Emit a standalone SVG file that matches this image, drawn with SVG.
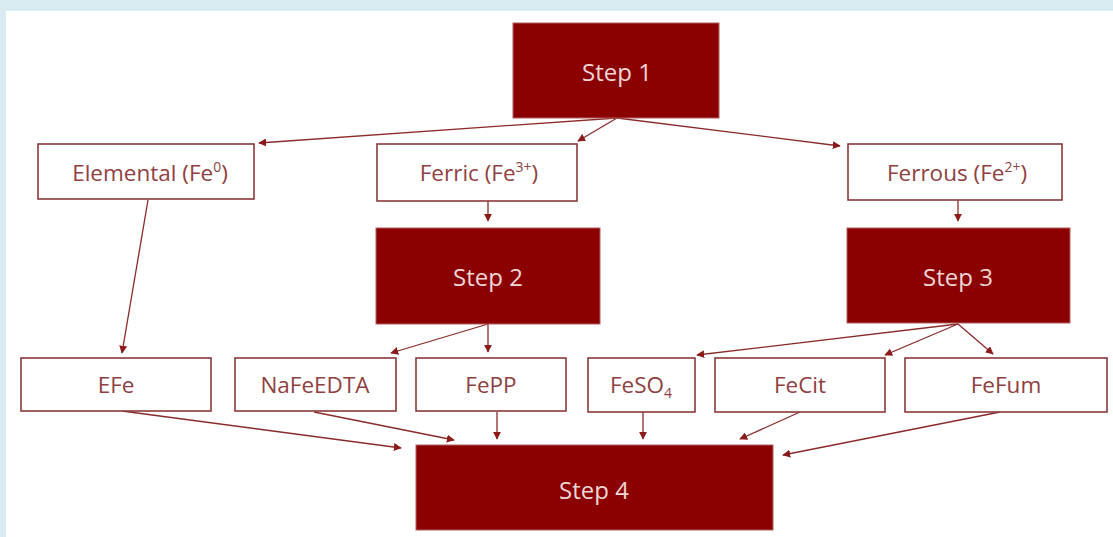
<svg xmlns="http://www.w3.org/2000/svg" width="1113" height="537" viewBox="0 0 1113 537">
<defs>
<marker id="ah" viewBox="0 0 10 10" refX="9" refY="5" markerWidth="8" markerHeight="8" markerUnits="userSpaceOnUse" orient="auto">
<path d="M0,0 L10,5 L0,10 z" fill="#8b1a1a"/>
</marker>
<style>
.bg{fill:#d7ebf1}
.dark{fill:#8b0000;stroke:#b06060;stroke-width:1}
.light{fill:#ffffff;stroke:#8b3a3a;stroke-width:1.6}
.dt{font-family:"Open Sans","Lato",sans-serif;font-size:24px;font-weight:500;fill:#f0d6d6;text-anchor:middle}
.lt{font-family:"Open Sans","Lato",sans-serif;font-size:22.5px;font-weight:500;fill:#8f4040;text-anchor:middle}
.c line{stroke:#8b2a2a;stroke-width:1.3;marker-end:url(#ah)}
</style>
</defs>
<rect class="bg" x="0" y="0" width="1113" height="537"/>
<rect x="6" y="11" width="1107" height="526" fill="#ffffff"/>

<g id="connectors" class="c">
<line x1="617" y1="118" x2="259" y2="143"/>
<line x1="617" y1="118" x2="578" y2="141"/>
<line x1="617" y1="118" x2="840" y2="146"/>
<line x1="148" y1="200" x2="122" y2="353"/>
<line x1="488" y1="201" x2="488" y2="221"/>
<line x1="958" y1="200" x2="958" y2="221"/>
<line x1="488" y1="324" x2="391" y2="353"/>
<line x1="488" y1="324" x2="488" y2="352"/>
<line x1="958" y1="324" x2="697" y2="355"/>
<line x1="958" y1="324" x2="885" y2="355"/>
<line x1="958" y1="324" x2="993" y2="354"/>
<line x1="122" y1="411" x2="401" y2="448"/>
<line x1="314" y1="412" x2="454" y2="440"/>
<line x1="497" y1="412" x2="497" y2="439"/>
<line x1="643" y1="412" x2="643" y2="439"/>
<line x1="800" y1="412" x2="740" y2="439"/>
<line x1="1000" y1="412" x2="783" y2="455"/>
</g>

<g id="step1"><rect class="dark" x="513" y="23" width="206" height="95"/><text class="dt" x="617" y="81">Step 1</text></g>
<g id="elemental"><rect class="light" x="38" y="144" width="216" height="55"/><text class="lt" x="150" y="181">Elemental (Fe<tspan font-size="14" dy="-9">0</tspan><tspan dy="9">)</tspan></text></g>
<g id="ferric"><rect class="light" x="377" y="144" width="200" height="57"/><text class="lt" x="479" y="181">Ferric (Fe<tspan font-size="14" dy="-9">3+</tspan><tspan dy="9">)</tspan></text></g>
<g id="ferrous"><rect class="light" x="848" y="144" width="214" height="56"/><text class="lt" x="957" y="181">Ferrous (Fe<tspan font-size="14" dy="-9">2+</tspan><tspan dy="9">)</tspan></text></g>
<g id="step2"><rect class="dark" x="376" y="228" width="224" height="96"/><text class="dt" x="488" y="286">Step 2</text></g>
<g id="step3"><rect class="dark" x="847" y="228" width="223" height="95"/><text class="dt" x="958" y="286">Step 3</text></g>
<g id="efe"><rect class="light" x="21" y="358" width="190" height="53"/><text class="lt" x="116" y="393">EFe</text></g>
<g id="nafeedta"><rect class="light" x="235" y="358" width="161" height="53"/><text class="lt" x="315" y="393">NaFeEDTA</text></g>
<g id="fepp"><rect class="light" x="416" y="358" width="150" height="53"/><text class="lt" x="491" y="393">FePP</text></g>
<g id="feso4"><rect class="light" x="588" y="358" width="107" height="54"/><text class="lt" x="641" y="393">FeSO<tspan font-size="14" dy="5">4</tspan></text></g>
<g id="fecit"><rect class="light" x="715" y="358" width="170" height="54"/><text class="lt" x="800" y="393">FeCit</text></g>
<g id="fefum"><rect class="light" x="905" y="358" width="202" height="54"/><text class="lt" x="1006" y="393">FeFum</text></g>
<g id="step4"><rect class="dark" x="416" y="445" width="357" height="85"/><text class="dt" x="594" y="499">Step 4</text></g>
</svg>
